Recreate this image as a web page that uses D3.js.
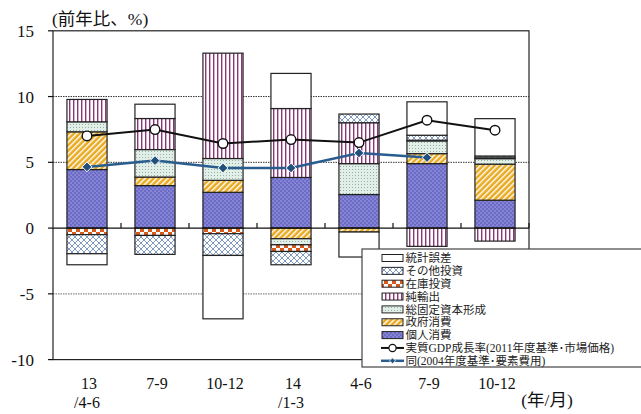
<!DOCTYPE html>
<html><head><meta charset="utf-8">
<script src="https://cdn.jsdelivr.net/npm/d3@7"></script>
<style>
body{margin:0;background:#fff;}
svg{display:block;}
</style></head>
<body><svg id="c" width="641" height="414"></svg>
<script>
// ---------- data ----------
const labelsTop    = ["13","7-9","10-12","14","4-6","7-9","10-12"];
const labelsBottom = ["/4-6","","","/1-3","","",""];
const seriesKeys   = ["個人消費","政府消費","総固定資本形成","純輸出","在庫投資","その他投資","統計誤差"];
const personal  = [4.45, 3.23, 2.72, 3.85, 2.55, 4.90, 2.12];
const government= [2.87, 0.65, 0.91, -0.81, -0.30, 0.76, 2.74];
const fixedCap  = [0.76, 2.09, 1.66, -0.46, 2.35, 0.97, 0.42];
const netExports= [1.70, 2.36, 8.01, 5.24, 3.11, -1.39, -0.99];
const inventory = [-0.50, -0.56, -0.43, -0.51, 0.00, 0.05, 0.06];
const otherInv  = [-1.45, -1.44, -1.65, -1.01, 0.66, 0.38, 0.14];
const statDisc  = [-0.84, 1.09, -4.82, 2.67, -1.90, 2.54, 2.84];
const gdpMarket = [7.01, 7.49, 6.43, 6.73, 6.50, 8.20, 7.44];
const gdpFactor = [4.65, 5.13, 4.57, 4.57, 5.71, 5.36, null];
const yTicks    = [15, 10, 5, 0, -5, -10];
const gridVals  = [10, 5, -5];
const legendLabels = ["統計誤差","その他投資","在庫投資","純輸出","総固定資本形成","政府消費","個人消費",
  "実質GDP成長率(2011年度基準･市場価格)","同(2004年度基準･要素費用)"];

// ---------- setup ----------
const SERIF = "'Liberation Serif','Times New Roman','DejaVu Serif',serif";
const JPS = "'Liberation Serif','Times New Roman','Noto Sans CJK JP',serif";
const svg = d3.select("#c");
const L = 53, R = 529, T = 30.8, B = 359.6;
const idx = d3.range(labelsTop.length);
const x = d3.scaleBand().domain(idx).range([L, R]).paddingInner(0.41).paddingOuter(0.205);
const y = d3.scaleLinear().domain([-10, 15]).range([B, T]);

const rows = idx.map(i => ({
  "個人消費": personal[i], "政府消費": government[i], "総固定資本形成": fixedCap[i],
  "純輸出": netExports[i], "在庫投資": inventory[i], "その他投資": otherInv[i], "統計誤差": statDisc[i]
}));
const stack = d3.stack().keys(seriesKeys).offset(d3.stackOffsetDiverging)(rows);

// ---------- patterns ----------
const defs = svg.append("defs");
function pat(id, w, h, tr) { const p = defs.append("pattern").attr("id", id).attr("patternUnits","userSpaceOnUse").attr("width", w).attr("height", h); if (tr) p.attr("patternTransform", tr); return p; }
let p;
p = pat("pPersonal", 4, 4); p.append("rect").attr("width",4).attr("height",4).attr("fill","#6c6cc8");
p.append("rect").attr("x",0.6).attr("y",0.6).attr("width",0.9).attr("height",0.9).attr("fill","#e6e6ff");
p.append("rect").attr("x",2.6).attr("y",2.6).attr("width",0.9).attr("height",0.9).attr("fill","#e6e6ff");
p = pat("pGov", 4, 4, "rotate(45)"); p.append("rect").attr("width",4).attr("height",4).attr("fill","#e9aa22");
p.append("rect").attr("x",0).attr("width",1.4).attr("height",4).attr("fill","#fff");
p = pat("pFixed", 3, 3); p.append("rect").attr("width",3).attr("height",3).attr("fill","#e2eee8");
p.append("rect").attr("x",1).attr("y",1).attr("width",1).attr("height",1).attr("fill","#93b3a4");
p = pat("pNet", 4, 4); p.append("rect").attr("width",4).attr("height",4).attr("fill","#fff");
p.append("rect").attr("x",1).attr("width",1.4).attr("height",4).attr("fill","#8b3679");
p = pat("pInv", 8, 8); p.append("rect").attr("width",8).attr("height",8).attr("fill","#fff");
p.append("rect").attr("width",4).attr("height",4).attr("fill","#d65a1c");
p.append("rect").attr("x",4).attr("y",4).attr("width",4).attr("height",4).attr("fill","#d65a1c");
p = pat("pOther", 6, 6); p.append("rect").attr("width",6).attr("height",6).attr("fill","#fff");
p.append("path").attr("d","M0,0L6,6M6,0L0,6M-1,5L1,7M5,-1L7,1M-1,1L1,-1M5,7L7,5").attr("stroke","#7090bd").attr("stroke-width",0.9);
const fills = {"個人消費":"url(#pPersonal)","政府消費":"url(#pGov)","総固定資本形成":"url(#pFixed)",
  "純輸出":"url(#pNet)","在庫投資":"url(#pInv)","その他投資":"url(#pOther)","統計誤差":"#fff"};

// ---------- frame & grid ----------
svg.append("g").selectAll("line").data(gridVals).join("line")
  .attr("x1", L).attr("x2", R).attr("y1", d => y(d)).attr("y2", d => y(d))
  .attr("stroke", d => d < 0 ? "#888" : "#333").attr("stroke-width", d => d < 0 ? 1.4 : 1)
  .attr("stroke-dasharray", "1.5,1");

// bars
const gBars = svg.append("g");
stack.forEach(s => {
  gBars.append("g").selectAll("rect").data(s).join("rect")
    .attr("x", (d, i) => x(i)).attr("width", x.bandwidth())
    .attr("y", d => y(Math.max(d[0], d[1]))).attr("height", d => Math.abs(y(d[0]) - y(d[1])))
    .attr("fill", fills[s.key]).attr("stroke", "#222").attr("stroke-width", 1.2)
    .style("display", d => Math.abs(d[1]-d[0]) < 1e-9 ? "none" : null);
});

// axes box
svg.append("rect").attr("x", L).attr("y", T).attr("width", R - L).attr("height", B - T)
  .attr("fill", "none").attr("stroke", "#222").attr("stroke-width", 1.2);
svg.append("line").attr("x1", L).attr("x2", R).attr("y1", y(0)).attr("y2", y(0)).attr("stroke", "#111").attr("stroke-width", 1.3);
svg.append("g").selectAll("line").data(d3.range(1, labelsTop.length + 1)).join("line")
  .attr("x1", i => L + i * x.step()).attr("x2", i => L + i * x.step())
  .attr("y1", y(0)).attr("y2", y(0) - 5).attr("stroke", "#111").attr("stroke-width", 1.2);
const ya = svg.append("g").selectAll("g").data(yTicks).join("g");
ya.append("line").attr("x1", L - 5).attr("x2", L).attr("y1", d => y(d)).attr("y2", d => y(d)).attr("stroke", "#111").attr("stroke-width", 1.2);
ya.append("text").attr("x", 34).attr("y", d => y(d)).attr("dy", "0.35em").attr("text-anchor", "end")
  .attr("font-family", SERIF).attr("font-size", 17).attr("fill", "#111").text(d => d);

// title
svg.append("text").attr("x", 52).attr("y", 25).attr("font-family", JPS).attr("font-size", 17.5).attr("fill", "#111").text("(前年比、%)");

// x labels
svg.append("g").selectAll("text").data(idx).join("text")
  .attr("x", i => x(i) + x.bandwidth() / 2 + 2).attr("y", 389).attr("text-anchor", "middle")
  .attr("font-family", SERIF).attr("font-size", 16).attr("fill", "#111").text(i => labelsTop[i]);
svg.append("g").selectAll("text").data(idx.filter(i => labelsBottom[i])).join("text")
  .attr("x", i => x(i) + x.bandwidth() / 2).attr("y", 407.5).attr("text-anchor", "middle")
  .attr("font-family", SERIF).attr("font-size", 16).attr("fill", "#111").text(i => labelsBottom[i]);
svg.append("text").attr("x", 547).attr("y", 406).attr("text-anchor", "middle")
  .attr("font-family", JPS).attr("font-size", 17.5).attr("fill", "#111").text("(年/月)");

// lines
const cx = i => x(i) + x.bandwidth() / 2;
const lineGen = d3.line().defined(d => d.v != null).x(d => cx(d.i)).y(d => y(d.v));
const mData = gdpMarket.map((v, i) => ({i, v}));
const fData = gdpFactor.map((v, i) => ({i, v}));
svg.append("path").datum(fData).attr("d", lineGen).attr("fill", "none").attr("stroke", "#2a5d8f").attr("stroke-width", 2.5);
svg.append("g").selectAll("path").data(fData.filter(d => d.v != null)).join("path")
  .attr("d", d3.symbol().type(d3.symbolDiamond2).size(60))
  .attr("transform", d => `translate(${cx(d.i)},${y(d.v)})`)
  .attr("fill", "#21507e").attr("stroke", "#fff").attr("stroke-width", 1);
svg.append("path").datum(mData).attr("d", lineGen).attr("fill", "none").attr("stroke", "#111").attr("stroke-width", 2);
svg.append("g").selectAll("circle").data(mData).join("circle")
  .attr("cx", d => cx(d.i)).attr("cy", d => y(d.v)).attr("r", 4.8)
  .attr("fill", "#fff").attr("stroke", "#111").attr("stroke-width", 1.4);

// ---------- legend ----------
const lg = svg.append("g");
lg.append("rect").attr("x", 362).attr("y", 249).attr("width", 290).attr("height", 118)
  .attr("fill", "#fff").attr("stroke", "#444").attr("stroke-width", 1.2);
const legY = i => 258 + i * 12.85;
const legFillKeys = ["統計誤差","その他投資","在庫投資","純輸出","総固定資本形成","政府消費","個人消費"];
legFillKeys.forEach((k, i) => {
  lg.append("rect").attr("x", 382).attr("y", legY(i) - 3.5).attr("width", 21).attr("height", 7)
    .attr("fill", fills[k]).attr("stroke", "#222").attr("stroke-width", 1);
});
lg.append("line").attr("x1", 381).attr("x2", 404).attr("y1", legY(7)).attr("y2", legY(7)).attr("stroke", "#111").attr("stroke-width", 2);
lg.append("circle").attr("cx", 392.5).attr("cy", legY(7)).attr("r", 3.6).attr("fill", "#fff").attr("stroke", "#111").attr("stroke-width", 1.2);
lg.append("line").attr("x1", 381).attr("x2", 404).attr("y1", legY(8)).attr("y2", legY(8)).attr("stroke", "#2a5d8f").attr("stroke-width", 2.5);
lg.append("path").attr("d", d3.symbol().type(d3.symbolDiamond2).size(22)).attr("transform", `translate(392.5,${legY(8)})`)
  .attr("fill", "#21507e").attr("stroke", "#fff").attr("stroke-width", 0.8);
lg.selectAll("text.l").data(legendLabels).join("text").attr("class", "l")
  .attr("x", 405.5).attr("y", (d, i) => legY(i)).attr("dy", "0.36em")
  .attr("font-family", JPS).attr("font-size", 11.5).attr("fill", "#222").text(d => d);
</script></body></html>
